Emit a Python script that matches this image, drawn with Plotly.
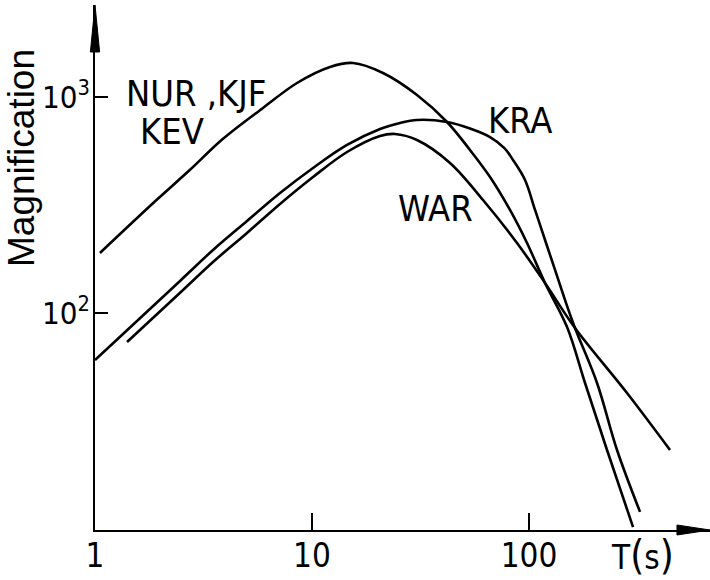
import plotly.graph_objects as go

# ---- data (log-log) ----
t_nur = [1.054, 1.931, 2.741, 3.889, 5.945, 8.53, 12.10, 15.45, 21.24, 30.47, 41.90, 53.47, 66.13,
         81.72, 97.9, 118.5, 149.7, 181.2, 228.8, 301.6]
m_nur = [189.6, 335.0, 460.0, 640.0, 890.0, 1161, 1377, 1437, 1292, 1022, 766.2, 568.3, 426.1,
         299.9, 210.9, 137.7, 86.1, 47.4, 23.2, 10.2]

t_kra = [1.00, 2.465, 3.499, 5.018, 7.121, 10.11, 14.50, 20.58, 25.44, 30.47, 41.90, 53.47, 66.13,
         77.0, 84.41, 95.85, 106.6, 119.8, 133.2, 146.5, 162.9, 205.8, 254.4, 324.8]
m_kra = [60.6, 140.7, 195.7, 266.6, 359.3, 469.2, 599.6, 711.1, 758.0, 782.7, 766.2, 715.0, 652.7,
         580.0, 510.9, 412.8, 299.9, 210.9, 153.2, 114.9, 85.2, 47.4, 23.2, 11.99]

t_war = [1.405, 2.545, 3.499, 5.018, 7.121, 10.11, 14.50, 20.58, 24.13, 30.47, 43.25, 61.38, 88.06,
         118.5, 162.9, 282.9, 446.5]
m_war = [73.4, 127.8, 172.2, 234.6, 319.6, 426.1, 556.4, 659.9, 674.2, 632.2, 494.9, 333.5, 210.9,
         137.7, 85.2, 42.6, 23.2]

x_tickvals = [1, 10, 100]
x_ticktext = ["1", "10", "100"]
y_tickvals = [100, 1000]
y_ticktext = ["10<sup>2</sup>", "10<sup>3</sup>"]

FONT = "Liberation Sans Narrow, DejaVu Sans Condensed, Liberation Sans, Arial, sans-serif"
FONT_R = "Liberation Sans, Arial, sans-serif"

fig = go.Figure()
for tx, my in [(t_nur, m_nur), (t_kra, m_kra), (t_war, m_war)]:
    fig.add_trace(go.Scatter(x=tx, y=my, mode="lines",
                             line=dict(color="black", width=2.6, shape="spline", smoothing=1.0),
                             hoverinfo="skip", showlegend=False))

fig.update_layout(
    width=710, height=580,
    margin=dict(l=95, r=0, t=5, b=50),
    paper_bgcolor="white", plot_bgcolor="white",
    showlegend=False,
    xaxis=dict(type="log", range=[0, 2.834], showgrid=False, zeroline=False,
               showline=True, linecolor="black", linewidth=2,
               ticks="inside", ticklen=17, tickwidth=2, tickcolor="black",
               tickvals=x_tickvals, ticktext=x_ticktext, ticklabelstandoff=-5,
               tickfont=dict(family=FONT, size=33, color="black")),
    yaxis=dict(type="log", range=[0.995, 3.426], showgrid=False, zeroline=False,
               showline=True, linecolor="black", linewidth=2,
               ticks="inside", ticklen=13, tickwidth=2, tickcolor="black",
               tickvals=y_tickvals, ticktext=y_ticktext, ticklabelstandoff=-3,
               tickfont=dict(family=FONT, size=31, color="black")),
)

# arrowheads
fig.add_shape(type="path", xref="paper", yref="paper",
              path="M -0.0075,0.9105 L 0,1 L 0.0075,0.9105 Z",
              fillcolor="black", line=dict(color="black", width=1))
fig.add_shape(type="path", xref="paper", yref="paper",
              path="M 0.9463,0.0095 L 1,0 L 0.9463,-0.0095 Z",
              fillcolor="black", line=dict(color="black", width=1))

labels = [
    ("NUR ,KJF", 0.465, 3.014),
    ("KEV", 0.355, 2.838),
    ("KRA", 1.959, 2.889),
    ("WAR", 1.567, 2.486),
]
for txt, lx, ly in labels:
    fig.add_annotation(x=lx, y=ly, xref="x", yref="y", text=txt, showarrow=False,
                       xanchor="center", yanchor="middle",
                       font=dict(family=FONT, size=36, color="black"))

fig.add_annotation(x=-0.1187, y=0.7086, xref="paper", yref="paper", text="Magnification",
                   textangle=-90, showarrow=False, xanchor="center", yanchor="middle",
                   font=dict(family=FONT_R, size=37, color="black"))
fig.add_annotation(x=0.891, y=-0.048, xref="paper", yref="paper",
                   text="T<span style='font-size:40px'>(</span>s<span style='font-size:40px'>)</span>",
                   showarrow=False, xanchor="center", yanchor="middle",
                   font=dict(family=FONT, size=33, color="black"))

fig.write_html("out.html")
